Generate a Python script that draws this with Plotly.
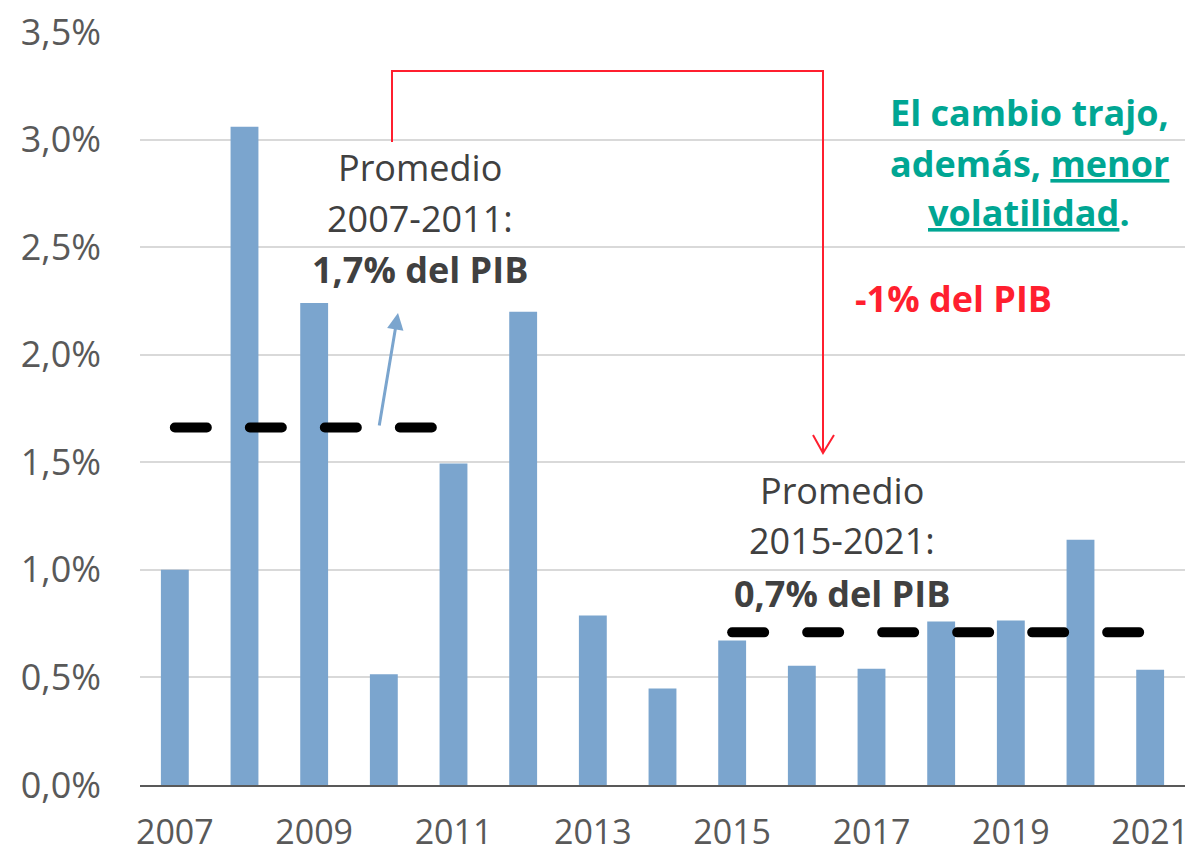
import numpy as np
import plotly.graph_objects as go

# ---- data ----
years = [2007, 2008, 2009, 2010, 2011, 2012, 2013, 2014,
         2015, 2016, 2017, 2018, 2019, 2020, 2021]
values_pct = [1.00, 3.06, 2.24, 0.515, 1.494, 2.20, 0.788, 0.448,
              0.672, 0.554, 0.540, 0.760, 0.765, 1.140, 0.536]
period1 = [2007, 2011]
period2 = [2015, 2021]
tick_years = [2007, 2009, 2011, 2013, 2015, 2017, 2019, 2021]
y_ticks = [0, 0.005, 0.01, 0.015, 0.02, 0.025, 0.03, 0.035]

values = [v / 100 for v in values_pct]
avg1 = float(np.mean([v for y, v in zip(years, values) if period1[0] <= y <= period1[1]]))
avg2 = float(np.mean([v for y, v in zip(years, values) if period2[0] <= y <= period2[1]]))

W, H = 1195, 857
L, R, T, B = 140, 10, 32, 72
x0, x1 = 2006.5, 2021.5
y0, y1 = 0.0, 0.035


def X(px):
    return x0 + (px - L) / (W - L - R) * (x1 - x0)


def Y(py):
    return y0 + (H - B - py) / (H - B - T) * (y1 - y0)


FONT = "Open Sans"
BLUE = "#7BA5CE"
RED = "#FF1F2F"
TEAL = "#00A693"
GRAY = "#404040"

fig = go.Figure()
fig.add_trace(go.Bar(x=years, y=values, width=0.4,
                     marker=dict(color=BLUE, line=dict(width=0)),
                     hoverinfo="skip"))
fig.add_trace(go.Scatter(x=period1, y=[avg1, avg1], mode="lines",
                         line=dict(color="black", width=10, dash="32px,43px"),
                         hoverinfo="skip"))
fig.add_trace(go.Scatter(x=period2, y=[avg2, avg2], mode="lines",
                         line=dict(color="black", width=10, dash="32px,43px"),
                         hoverinfo="skip"))

annotations = []


def txt(text, px, py, color=GRAY, size=36):
    annotations.append(dict(x=X(px), y=Y(py), xref="x", yref="y", text=text,
                            showarrow=False, xanchor="center", yanchor="middle",
                            font=dict(family=FONT, size=size, color=color)))


txt("Promedio", 420, 167)
txt("2007-2011:", 420, 218)
txt("<b>1,7% del PIB</b>", 420, 269)
txt("Promedio", 842, 490)
txt("2015-2021:", 842, 540)
txt("<b>0,7% del PIB</b>", 842, 593)
txt("<b>El cambio trajo,</b>", 1029, 112, TEAL)
txt("<b>además, <u>menor</u></b>", 1029, 163, TEAL)
txt("<b><u>volatilidad</u>.</b>", 1029, 212, TEAL)
txt("<b>-1% del PIB</b>", 953, 298, RED)

# blue arrow
annotations.append(dict(x=X(398), y=Y(313), ax=X(379), ay=Y(427),
                        xref="x", yref="y", axref="x", ayref="y", text="",
                        showarrow=True, arrowhead=2, arrowsize=1.1,
                        arrowwidth=3, arrowcolor=BLUE, standoff=0))

shapes = [
    dict(type="path", xref="x", yref="y",
         path=f"M {X(392)},{Y(142)} L {X(392)},{Y(71)} L {X(823)},{Y(71)} L {X(823)},{Y(452)}",
         line=dict(color=RED, width=2)),
    dict(type="path", xref="x", yref="y",
         path=f"M {X(813)},{Y(435)} L {X(823)},{Y(453)} L {X(834)},{Y(435)}",
         line=dict(color=RED, width=2)),
]

fig.update_layout(
    width=W, height=H,
    margin=dict(l=L, r=R, t=T, b=B),
    plot_bgcolor="white", paper_bgcolor="white",
    showlegend=False, separators=",.",
    font=dict(family=FONT, color="#595959"),
    annotations=annotations, shapes=shapes,
    xaxis=dict(range=[x0, x1], tickvals=tick_years, ticktext=[str(t) for t in tick_years],
               showgrid=False, zeroline=False, ticks="", showline=True,
               linecolor="#595959", linewidth=2, automargin=False,
               tickfont=dict(family=FONT, size=34, color="#595959"),
               ticklabelstandoff=16),
    yaxis=dict(range=[y0, y1], tickvals=y_ticks, tickformat=".1%",
               showgrid=True, gridcolor="#D9D9D9", gridwidth=1.5,
               zeroline=False, ticks="", showline=False, automargin=False,
               tickfont=dict(family=FONT, size=36, color="#595959"),
               ticklabelstandoff=38),
)

fig.write_html("out.html",
               config={"displayModeBar": False},
               post_script="var s=document.createElement('style');"
                           "s.innerHTML='html,body{margin:0;padding:0;overflow:hidden}"
                           ".scatterlayer .js-line{stroke-linecap:round}';"
                           "document.head.appendChild(s);")
